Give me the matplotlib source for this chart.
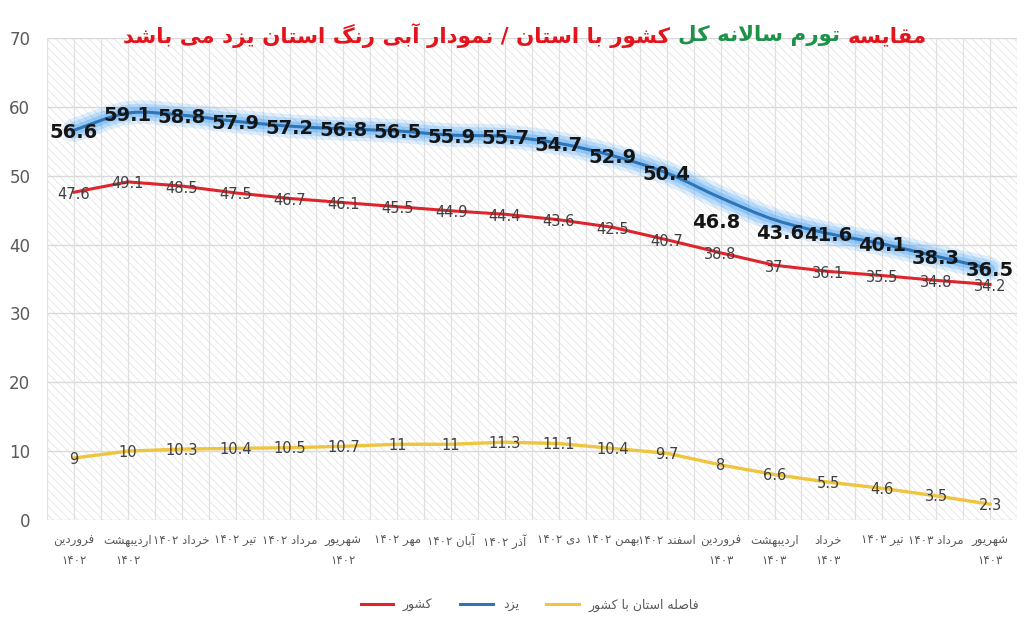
import matplotlib
matplotlib.use("Agg")
import matplotlib.pyplot as plt
from matplotlib.path import Path
from matplotlib.patches import PathPatch, Rectangle
from matplotlib.lines import Line2D

months = ["فروردین\n۱۴۰۲", "اردیبهشت\n۱۴۰۲", "خرداد ۱۴۰۲", "تیر ۱۴۰۲", "مرداد ۱۴۰۲",
          "شهریور\n۱۴۰۲", "مهر ۱۴۰۲", "آبان ۱۴۰۲", "آذر ۱۴۰۲", "دی ۱۴۰۲", "بهمن ۱۴۰۲",
          "اسفند ۱۴۰۲", "فروردین\n۱۴۰۳", "اردیبهشت\n۱۴۰۳", "خرداد\n۱۴۰۳", "تیر ۱۴۰۳",
          "مرداد ۱۴۰۳", "شهریور\n۱۴۰۳"]
yazd = [56.6, 59.1, 58.8, 57.9, 57.2, 56.8, 56.5, 55.9, 55.7, 54.7, 52.9, 50.4,
        46.8, 43.6, 41.6, 40.1, 38.3, 36.5]
country = [47.6, 49.1, 48.5, 47.5, 46.7, 46.1, 45.5, 44.9, 44.4, 43.6, 42.5, 40.7,
           38.8, 37, 36.1, 35.5, 34.8, 34.2]
gap = [9, 10, 10.3, 10.4, 10.5, 10.7, 11, 11, 11.3, 11.1, 10.4, 9.7, 8, 6.6, 5.5,
       4.6, 3.5, 2.3]
series_names = ["کشور", "یزد", "فاصله استان با کشور"]
title_parts = ["مقایسه", "تورم سالانه کل", "کشور با استان / نمودار آبی رنگ استان یزد می باشد"]

# --- minimal Persian shaping (presentation forms) + visual reordering ---
FORMS = {
    "\u0622": ("\uFE81", "\uFE82", None, None),
    "\u0627": ("\uFE8D", "\uFE8E", None, None),
    "\u0628": ("\uFE8F", "\uFE90", "\uFE91", "\uFE92"),
    "\u062A": ("\uFE95", "\uFE96", "\uFE97", "\uFE98"),
    "\u062E": ("\uFEA5", "\uFEA6", "\uFEA7", "\uFEA8"),
    "\u062F": ("\uFEA9", "\uFEAA", None, None),
    "\u0630": ("\uFEAB", "\uFEAC", None, None),
    "\u0631": ("\uFEAD", "\uFEAE", None, None),
    "\u0632": ("\uFEAF", "\uFEB0", None, None),
    "\u0633": ("\uFEB1", "\uFEB2", "\uFEB3", "\uFEB4"),
    "\u0634": ("\uFEB5", "\uFEB6", "\uFEB7", "\uFEB8"),
    "\u0635": ("\uFEB9", "\uFEBA", "\uFEBB", "\uFEBC"),
    "\u0641": ("\uFED1", "\uFED2", "\uFED3", "\uFED4"),
    "\u0642": ("\uFED5", "\uFED6", "\uFED7", "\uFED8"),
    "\u0643": ("\uFED9", "\uFEDA", "\uFEDB", "\uFEDC"),
    "\u0644": ("\uFEDD", "\uFEDE", "\uFEDF", "\uFEE0"),
    "\u0645": ("\uFEE1", "\uFEE2", "\uFEE3", "\uFEE4"),
    "\u0646": ("\uFEE5", "\uFEE6", "\uFEE7", "\uFEE8"),
    "\u0647": ("\uFEE9", "\uFEEA", "\uFEEB", "\uFEEC"),
    "\u0648": ("\uFEED", "\uFEEE", None, None),
    "\u064A": ("\uFEF1", "\uFEF2", "\uFEF3", "\uFEF4"),
    "\u06A9": ("\uFB8E", "\uFB8F", "\uFB90", "\uFB91"),
    "\u06AF": ("\uFB92", "\uFB93", "\uFB94", "\uFB95"),
    "\u06CC": ("\uFBFC", "\uFBFD", "\uFBFE", "\uFBFF"),
}
LAM_ALEF = {"\u0627": ("\uFEFB", "\uFEFC"), "\u0622": ("\uFEF5", "\uFEF6")}


def joins_next(c):
    return c in FORMS and FORMS[c][2] is not None


def shape(s):
    out = []
    i = 0
    n = len(s)
    while i < n:
        c = s[i]
        if c not in FORMS:
            out.append(c)
            i += 1
            continue
        prev = s[i - 1] if i > 0 else None
        jp = joins_next(prev)
        nxt = s[i + 1] if i + 1 < n else None
        if c == "\u0644" and nxt in LAM_ALEF:
            out.append(LAM_ALEF[nxt][1 if jp else 0])
            i += 2
            continue
        jn = joins_next(c) and nxt in FORMS
        f = FORMS[c]
        if jp and jn:
            out.append(f[3])
        elif jp:
            out.append(f[1])
        elif jn:
            out.append(f[2])
        else:
            out.append(f[0])
        i += 1
    return "".join(out)


def is_ltr(c):
    return c.isdigit() or ("a" <= c.lower() <= "z") or c == "."


def fa(s):
    lines = []
    for line in s.split("\n"):
        sh = shape(line)
        tokens = []
        for c in sh:
            if is_ltr(c) and tokens and is_ltr(tokens[-1][-1]):
                tokens[-1] += c
            else:
                tokens.append(c)
        lines.append("".join(reversed(tokens)))
    return "\n".join(lines)


plt.rcParams["font.family"] = ["DejaVu Sans"]
plt.rcParams["hatch.linewidth"] = 0.6
plt.rcParams["hatch.color"] = "#E4E4E4"

fig = plt.figure(figsize=(10.24, 6.32), dpi=100)
ax = fig.add_axes([47 / 1024, 1 - 520 / 632, 970 / 1024, 482 / 632])
x = list(range(len(yazd)))

ax.set_xlim(-0.5, len(yazd) - 0.5)
ax.set_ylim(0, 70)
ax.add_patch(Rectangle((0, 0), 1, 1, transform=ax.transAxes, facecolor="white",
                       edgecolor="#E4E4E4", hatch="\\\\\\\\", lw=0, zorder=0))
for v in range(0, 71, 10):
    ax.axhline(v, color="#D9D9D9", lw=1, zorder=1)
for k in range(len(yazd) * 2 + 1):
    ax.axvline(-0.5 + k * 0.5, color="#E0E0E0", lw=0.9, zorder=1)
for s in ax.spines.values():
    s.set_visible(False)

ax.set_yticks(range(0, 71, 10))
ax.set_xticks(x)
ax.set_xticklabels([fa(m) for m in months], fontsize=8.5, color="#595959", linespacing=1.7)
ax.tick_params(axis="both", length=0)
ax.tick_params(axis="y", labelsize=12, labelcolor="#595959", pad=12)
ax.tick_params(axis="x", pad=10)

# smoothed blue line (Excel-style)
pts = list(zip(x, yazd))
verts = [pts[0]]
codes = [Path.MOVETO]
for i in range(len(pts) - 1):
    p0 = pts[i - 1] if i > 0 else pts[i]
    p1, p2 = pts[i], pts[i + 1]
    p3 = pts[i + 2] if i + 2 < len(pts) else pts[i + 1]
    c1 = (p1[0] + (p2[0] - p0[0]) / 6, p1[1] + (p2[1] - p0[1]) / 6)
    c2 = (p2[0] - (p3[0] - p1[0]) / 6, p2[1] - (p3[1] - p1[1]) / 6)
    verts += [c1, c2, p2]
    codes += [Path.CURVE4] * 3
bpath = Path(verts, codes)
for lw, a in [(17, 0.18), (12, 0.25), (7, 0.35)]:
    ax.add_patch(PathPatch(bpath, fill=False, edgecolor="#4CA3F5", lw=lw, alpha=a,
                           capstyle="round", joinstyle="round", zorder=2))
ax.add_patch(PathPatch(bpath, fill=False, edgecolor="#2E75B6", lw=2.2, zorder=3))

ax.plot(x, country, color="#E0242B", lw=2.2, zorder=3)
ax.plot(x, gap, color="#EFC53F", lw=2.4, zorder=3)

blue_off = {12: (-4, -25), 13: (6, -14)}
for i, v in enumerate(yazd):
    dx, dy = blue_off.get(i, (0, -2))
    ax.annotate(f"{v:g}", (i, v), xytext=(dx, dy), textcoords="offset pixels",
                ha="center", va="center", fontsize=14, fontweight="bold",
                color="#151515", zorder=5)
for i, v in enumerate(country):
    ax.annotate(f"{v:g}", (i, v), xytext=(0, -2), textcoords="offset pixels",
                ha="center", va="center", fontsize=10.5, color="#404040", zorder=5)
for i, v in enumerate(gap):
    ax.annotate(f"{v:g}", (i, v), xytext=(0, -1), textcoords="offset pixels",
                ha="center", va="center", fontsize=10.5, color="#404040", zorder=5)

handles = [Line2D([], [], color="#E0242B", lw=2.2),
           Line2D([], [], color="#2E75B6", lw=2.2),
           Line2D([], [], color="#EFC53F", lw=2.2)]
fig.legend(handles, [fa(n) for n in series_names], loc="center",
           bbox_to_anchor=(530 / 1024, 1 - 605 / 632), ncol=3, frameon=False,
           fontsize=9, labelcolor="#595959", handlelength=2.6, columnspacing=2.2)

# multi-coloured title, visual order left->right
red, green = "#E3141C", "#1E9248"
ty = 1 - 36 / 632
fs = 19
t_left = fig.text(0.1, ty, fa(title_parts[2]), color=red, fontsize=fs,
                  fontweight="bold", ha="left", va="center")
t_mid = fig.text(0.5, ty, fa(title_parts[1]), color=green, fontsize=fs,
                 fontweight="bold", ha="left", va="center")
t_right = fig.text(0.8, ty, fa(title_parts[0]), color=red, fontsize=fs,
                   fontweight="bold", ha="left", va="center")
fig.canvas.draw()
r = fig.canvas.get_renderer()
gapw = 8
widths = [t.get_window_extent(r).width for t in (t_left, t_mid, t_right)]
scale = 800 / (sum(widths) + 2 * gapw)
for t in (t_left, t_mid, t_right):
    t.set_fontsize(fs * scale)
fig.canvas.draw()
widths = [t.get_window_extent(r).width for t in (t_left, t_mid, t_right)]
total = sum(widths) + 2 * gapw
x0 = 525 - total / 2
for t, w in zip((t_left, t_mid, t_right), widths):
    t.set_x(x0 / 1024)
    x0 += w + gapw

fig.savefig("out.png", dpi=100)
